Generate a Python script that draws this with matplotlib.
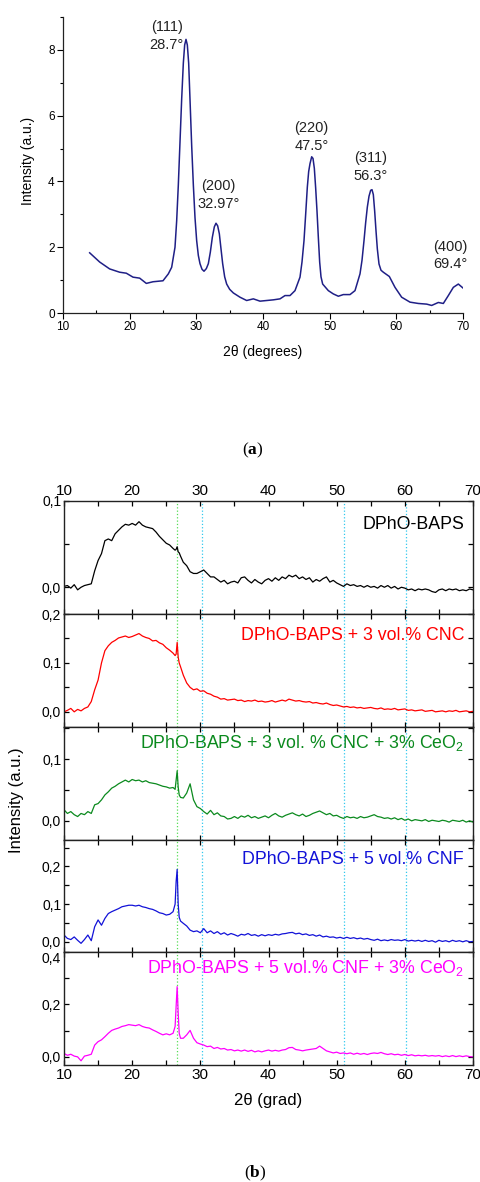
import numpy as np
import matplotlib
matplotlib.use("Agg")
import matplotlib.pyplot as plt
from matplotlib.ticker import MultipleLocator, FuncFormatter

plt.rcParams['font.family'] = ['Liberation Sans', 'DejaVu Sans']
plt.rcParams['mathtext.default'] = 'regular'
plt.rcParams['mathtext.fontset'] = 'custom'
plt.rcParams['mathtext.bf'] = 'Liberation Serif:bold'

# ---------------- panel (a): CeO2 pattern ----------------
ceo2_x = [14.0, 15.5, 17.0, 18.5, 19.5, 20.5, 21.5, 22.5, 23.5, 25.0, 25.8, 26.3,
          26.8, 27.05, 27.3, 27.55, 27.8, 28.05, 28.25, 28.45, 28.65, 28.85, 29.05,
          29.3, 29.55, 29.8, 30.05, 30.3, 30.55, 30.85, 31.15, 31.5, 31.8, 32.1,
          32.4, 32.7, 32.95, 33.2, 33.45, 33.7, 33.95, 34.25, 34.55, 35.0, 35.55,
          36.55, 37.55, 38.55, 39.55, 40.55, 41.55, 42.55, 43.3, 44.05, 44.8, 45.55,
          45.85, 46.15, 46.4, 46.65, 46.85, 47.05, 47.3, 47.5, 47.7, 47.9, 48.1,
          48.3, 48.5, 48.7, 48.95, 49.8, 50.55, 51.3, 52.05, 53.05, 53.8, 54.55,
          54.85, 55.15, 55.4, 55.65, 55.9, 56.15, 56.35, 56.55, 56.75, 56.95, 57.15,
          57.4, 57.7, 58.05, 58.95, 59.8, 60.8, 62.05, 63.3, 64.55, 65.3, 66.3,
          67.05, 67.8, 68.55, 69.3, 70.0]
ceo2_y = [1.83, 1.55, 1.34, 1.24, 1.21, 1.09, 1.06, 0.90, 0.95, 0.98, 1.19, 1.39,
          2.0, 2.8, 3.9, 5.2, 6.5, 7.6, 8.15, 8.32, 8.15, 7.6, 6.5,
          5.1, 3.9, 2.9, 2.2, 1.75, 1.5, 1.33, 1.27, 1.35, 1.5, 1.85,
          2.3, 2.62, 2.73, 2.65, 2.41, 1.95, 1.5, 1.1, 0.88, 0.72, 0.61,
          0.48, 0.38, 0.43, 0.36, 0.38, 0.40, 0.43, 0.53, 0.53, 0.68, 1.09,
          1.55, 2.2, 3.0, 3.83, 4.3, 4.54, 4.75, 4.7, 4.4, 3.8, 3.1,
          2.3, 1.55, 1.1, 0.88, 0.68, 0.58, 0.51, 0.56, 0.56, 0.68, 1.19,
          1.6, 2.2, 2.75, 3.22, 3.55, 3.73, 3.75, 3.6, 3.1, 2.5, 1.95,
          1.49, 1.3, 1.24, 1.11, 0.78, 0.48, 0.33, 0.29, 0.27, 0.23, 0.32,
          0.29, 0.53, 0.78, 0.88, 0.76]

peak_labels = ["(111)\n28.7°", "(200)\n32.97°", "(220)\n47.5°", "(311)\n56.3°", "(400)\n69.4°"]
peak_label_x = [25.55, 33.3, 47.3, 56.15, 68.05]
peak_label_y = [8.42, 3.58, 5.36, 4.45, 1.75]

# ---------------- panel (b): composite membranes ----------------
two_theta = np.concatenate([np.arange(10, 26, 0.5),
                            [26.0, 26.3, 26.45, 26.6, 26.75, 26.9, 27.1],
                            np.arange(27.5, 70.01, 0.5)])

dpho = [0.001, 0.002, -0.001, 0.003, -0.003, 0.000, 0.002, 0.003, 0.004, 0.019,
        0.031, 0.039, 0.054, 0.056, 0.054, 0.062, 0.066, 0.070, 0.073, 0.072,
        0.074, 0.072, 0.076, 0.072, 0.070, 0.069, 0.068, 0.064, 0.059, 0.055,
        0.051, 0.049,
        0.045, 0.043, 0.044, 0.047, 0.041, 0.040, 0.036,
        0.029, 0.025, 0.018, 0.016, 0.016, 0.018, 0.020, 0.016, 0.012, 0.012,
        0.009, 0.006, 0.008, 0.004, 0.006, 0.007, 0.005, 0.011, 0.012, 0.008,
        0.005, 0.009, 0.006, 0.004, 0.008, 0.010, 0.007, 0.011, 0.008, 0.012,
        0.010, 0.014, 0.012, 0.014, 0.010, 0.012, 0.009, 0.011, 0.006, 0.009,
        0.007, 0.010, 0.012, 0.006, 0.008, 0.005, 0.003, 0.001, 0.004, 0.002,
        0.003, 0.001, 0.002, 0.000, 0.002, 0.000, 0.001, -0.001, 0.002, 0.000,
        0.002, -0.001, 0.001, -0.002, 0.000, -0.001, -0.003, -0.002, -0.004, -0.002,
        -0.003, -0.002, -0.003, -0.005, -0.006, -0.003, -0.002, -0.004, -0.002, -0.003,
        -0.002, -0.004, -0.003, -0.004, -0.002, -0.003]

cnc3 = [0.000, 0.003, 0.007, 0.000, 0.005, 0.002, 0.007, 0.010, 0.021, 0.045,
        0.065, 0.100, 0.125, 0.135, 0.142, 0.146, 0.151, 0.153, 0.155, 0.152,
        0.154, 0.157, 0.160, 0.155, 0.152, 0.150, 0.145, 0.146, 0.141, 0.138,
        0.131, 0.126,
        0.120, 0.115, 0.118, 0.142, 0.112, 0.100, 0.092,
        0.075, 0.059, 0.050, 0.045, 0.047, 0.042, 0.043, 0.038, 0.036, 0.032,
        0.030, 0.026, 0.027, 0.024, 0.025, 0.026, 0.023, 0.024, 0.021, 0.023,
        0.022, 0.024, 0.021, 0.022, 0.020, 0.021, 0.023, 0.020, 0.022, 0.024,
        0.022, 0.026, 0.024, 0.022, 0.023, 0.021, 0.020, 0.021, 0.018, 0.019,
        0.017, 0.016, 0.018, 0.015, 0.013, 0.014, 0.012, 0.010, 0.011, 0.009,
        0.010, 0.008, 0.009, 0.007, 0.008, 0.009, 0.007, 0.006, 0.008, 0.005,
        0.006, 0.005, 0.007, 0.004, 0.005, 0.006, 0.003, 0.004, 0.002, 0.003,
        0.004, 0.001, 0.002, 0.003, 0.000, 0.001, 0.002, 0.000, 0.002, 0.001,
        0.003, 0.000, 0.001, 0.002, 0.000, 0.001]

cnc3_ceo2 = [0.018, 0.012, 0.015, 0.010, 0.007, 0.012, 0.010, 0.015, 0.012, 0.026,
             0.028, 0.034, 0.042, 0.047, 0.053, 0.056, 0.060, 0.063, 0.066, 0.063,
             0.067, 0.065, 0.066, 0.063, 0.065, 0.062, 0.061, 0.060, 0.058, 0.056,
             0.055, 0.053,
             0.054, 0.051, 0.066, 0.081, 0.055, 0.042, 0.038,
             0.037, 0.045, 0.060, 0.034, 0.023, 0.020, 0.015, 0.011, 0.017, 0.010,
             0.013, 0.008, 0.007, 0.003, 0.004, 0.007, 0.004, 0.008, 0.006, 0.009,
             0.005, 0.007, 0.004, 0.006, 0.008, 0.005, 0.009, 0.012, 0.008, 0.006,
             0.009, 0.011, 0.013, 0.010, 0.008, 0.011, 0.007, 0.009, 0.012, 0.014,
             0.016, 0.013, 0.010, 0.012, 0.008, 0.009, 0.006, 0.004, 0.007, 0.005,
             0.006, 0.004, 0.007, 0.005, 0.006, 0.008, 0.010, 0.007, 0.006, 0.004,
             0.005, 0.003, 0.005, 0.002, 0.004, 0.001, 0.003, 0.000, 0.002, 0.001,
             0.000, 0.002, -0.001, 0.001, 0.000, -0.001, 0.001, 0.000, -0.002, 0.001,
             0.000, -0.001, 0.001, -0.002, 0.000, -0.002]

cnf5 = [0.018, 0.009, 0.006, 0.013, 0.004, -0.004, 0.006, 0.018, 0.003, 0.040,
        0.058, 0.044, 0.062, 0.075, 0.080, 0.084, 0.088, 0.093, 0.095, 0.097,
        0.097, 0.095, 0.097, 0.093, 0.091, 0.088, 0.086, 0.082, 0.077, 0.075,
        0.071, 0.073,
        0.080, 0.100, 0.160, 0.192, 0.100, 0.065, 0.055,
        0.049, 0.042, 0.031, 0.027, 0.029, 0.024, 0.035, 0.024, 0.029, 0.022,
        0.027, 0.020, 0.024, 0.018, 0.022, 0.019, 0.015, 0.020, 0.018, 0.022,
        0.017, 0.019, 0.015, 0.019, 0.016, 0.019, 0.017, 0.020, 0.018, 0.021,
        0.022, 0.024, 0.025, 0.021, 0.023, 0.019, 0.021, 0.017, 0.019, 0.015,
        0.018, 0.013, 0.015, 0.012, 0.013, 0.010, 0.012, 0.009, 0.012, 0.009,
        0.011, 0.008, 0.010, 0.007, 0.009, 0.006, 0.004, 0.007, 0.003, 0.005,
        0.003, 0.006, 0.004, 0.005, 0.003, 0.006, 0.002, 0.004, 0.002, 0.004,
        0.001, 0.004, 0.001, 0.003, -0.001, 0.004, 0.001, 0.003, 0.000, 0.004,
        0.001, 0.003, 0.000, 0.003, 0.000, 0.001]

cnf5_ceo2 = [0.013, 0.006, 0.010, 0.003, 0.000, -0.015, 0.003, 0.006, 0.010, 0.045,
             0.058, 0.065, 0.077, 0.090, 0.101, 0.106, 0.110, 0.116, 0.119, 0.123,
             0.121, 0.119, 0.123, 0.116, 0.112, 0.110, 0.103, 0.097, 0.090, 0.084,
             0.088, 0.084,
             0.090, 0.116, 0.194, 0.268, 0.168, 0.090, 0.071,
             0.071, 0.084, 0.101, 0.071, 0.054, 0.049, 0.045, 0.039, 0.041, 0.032,
             0.036, 0.030, 0.032, 0.026, 0.028, 0.023, 0.026, 0.022, 0.026, 0.021,
             0.025, 0.019, 0.023, 0.019, 0.023, 0.026, 0.022, 0.025, 0.022, 0.026,
             0.028, 0.035, 0.036, 0.028, 0.026, 0.023, 0.026, 0.028, 0.030, 0.032,
             0.041, 0.032, 0.023, 0.019, 0.015, 0.018, 0.013, 0.015, 0.012, 0.015,
             0.010, 0.014, 0.010, 0.013, 0.009, 0.013, 0.015, 0.013, 0.017, 0.012,
             0.009, 0.012, 0.008, 0.010, 0.006, 0.009, 0.005, 0.008, 0.004, 0.006,
             0.004, 0.006, 0.003, 0.005, 0.003, 0.005, 0.001, 0.004, 0.001, 0.005,
             0.001, 0.004, 0.001, 0.004, 0.001, 0.000]

series_b = [dpho, cnc3, cnc3_ceo2, cnf5, cnf5_ceo2]
labels_b = ["DPhO-BAPS", "DPhO-BAPS + 3 vol.% CNC",
            "DPhO-BAPS + 3 vol. % CNC + 3% CeO$_2$", "DPhO-BAPS + 5 vol.% CNF",
            "DPhO-BAPS + 5 vol.% CNF + 3% CeO$_2$"]
colors_b = ['#000000', '#ff0000', '#0b8a1e', '#1212d8', '#ff00ff']
ylims_b = [(-0.031, 0.1), (-0.031, 0.2), (-0.031, 0.152), (-0.027, 0.27), (-0.031, 0.4)]
major_b = [0.1, 0.1, 0.1, 0.1, 0.2]
minor_b = [0.05, 0.05, 0.05, 0.05, 0.1]
label_y_b = [0.79, 0.81, 0.86, 0.83, 0.86]

green_line = [26.65]
cyan_lines = [30.3, 51.1, 60.2]

W, H = 480, 1182
fig = plt.figure(figsize=(W / 100, H / 100), dpi=100)


def px_axes(left, top, right, bottom):
    return fig.add_axes([left / W, 1 - bottom / H, (right - left) / W, (bottom - top) / H])


# ---- (a)
ax = px_axes(63, 17, 463, 313)
ax.plot(ceo2_x, ceo2_y, color='#1f1f86', lw=1.1)
ax.set_xlim(10, 70)
ax.set_ylim(0, 9)
for s in ['top', 'right']:
    ax.spines[s].set_visible(False)
for s in ['left', 'bottom']:
    ax.spines[s].set_linewidth(0.9)
    ax.spines[s].set_color('#222222')
ax.xaxis.set_major_locator(MultipleLocator(10))
ax.xaxis.set_minor_locator(MultipleLocator(5))
ax.yaxis.set_major_locator(MultipleLocator(2))
ax.yaxis.set_minor_locator(MultipleLocator(1))
ax.tick_params(which='major', direction='out', length=4, width=0.8, labelsize=8.5, pad=2)
ax.tick_params(which='minor', direction='out', length=2.5, width=0.8)
ax.tick_params(axis='x', which='minor', direction='in')
for t, xx, yy in zip(peak_labels, peak_label_x, peak_label_y):
    ax.text(xx, yy, t, ha='center', va='center', fontsize=10.5, linespacing=1.35,
            color='#222222')
fig.text(263 / W, 1 - 352 / H, "2θ (degrees)", ha='center', va='center', fontsize=10)
fig.text(28 / W, 1 - 161 / H, "Intensity (a.u.)", ha='center', va='center',
         rotation=90, fontsize=10)
fig.text(253 / W, 1 - 450 / H, r"($\mathbf{a}$)", ha='center', va='center',
         fontsize=12.5, family='Liberation Serif')

# ---- (b)
tops = [501, 614, 727, 840, 952, 1065]
fmt = FuncFormatter(lambda v, p: f"{v:.1f}".replace('.', ','))
for i in range(5):
    axb = px_axes(64, tops[i], 473, tops[i + 1])
    for xv in green_line:
        axb.axvline(xv, color='#55dd55', ls=':', lw=0.9, zorder=1)
    for xv in cyan_lines:
        axb.axvline(xv, color='#30c8ee', ls=':', lw=0.9, zorder=1)
    axb.plot(two_theta, series_b[i], color=colors_b[i], lw=0.9, zorder=2)
    axb.set_xlim(10, 70)
    axb.set_ylim(*ylims_b[i])
    axb.xaxis.set_major_locator(MultipleLocator(10))
    axb.xaxis.set_minor_locator(MultipleLocator(5))
    axb.yaxis.set_major_locator(MultipleLocator(major_b[i]))
    axb.yaxis.set_minor_locator(MultipleLocator(minor_b[i]))
    axb.yaxis.set_major_formatter(fmt)
    axb.tick_params(which='both', direction='in', top=True, right=True,
                    length=3.5, width=0.9, labelsize=10, pad=2)
    axb.tick_params(axis='x', labelsize=11)
    axb.tick_params(axis='x', labelbottom=(i == 4), labeltop=(i == 0))
    for s in axb.spines.values():
        s.set_linewidth(1.0)
        s.set_color('#222222')
    axb.text(0.978, label_y_b[i], labels_b[i], transform=axb.transAxes,
             ha='right', va='center', fontsize=12.8, color=colors_b[i])
    if i == 4:
        # top label of the last panel sits just under the panel border
        fig.canvas.draw()
        for lab in axb.get_yticklabels():
            if lab.get_text() == "0,4":
                lab.set_verticalalignment('top')

fig.text(268 / W, 1 - 1100 / H, "2θ (grad)", ha='center', va='center', fontsize=12)
fig.text(17 / W, 1 - 800 / H, "Intensity (a.u.)", ha='center', va='center',
         rotation=90, fontsize=12)
fig.text(255 / W, 1 - 1173 / H, r"($\mathbf{b}$)", ha='center', va='center',
         fontsize=12.5, family='Liberation Serif')

fig.savefig("out.png", dpi=100)
